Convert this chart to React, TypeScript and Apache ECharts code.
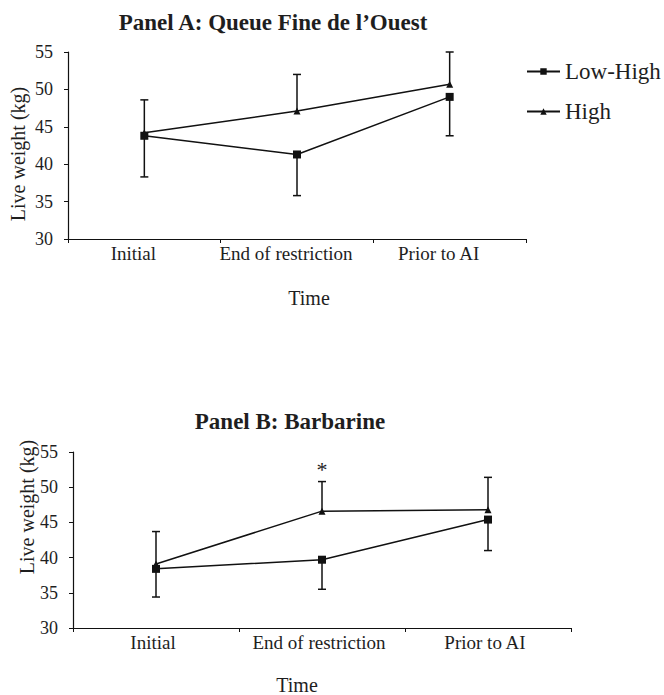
import React, { useEffect, useRef } from "react";
import * as echarts from "echarts";

const categories = ["Initial", "End of restriction", "Prior to AI"];
const seriesNames = ["Low-High", "High"];

const aLowHigh = [43.8, 41.3, 49.0];
const aHigh = [44.2, 47.1, 50.7];
const aLowHighErr = [5.5, 5.5, 5.2];
const aHighErr = [4.4, 4.9, 4.3];

const bLowHigh = [38.4, 39.7, 45.4];
const bHigh = [39.1, 46.6, 46.8];
const bLowHighErr = [4.0, 4.2, 4.4];
const bHighErr = [4.6, 4.2, 4.6];
const bSignificant = [false, true, false];

const yTicks = [30, 35, 40, 45, 50, 55];

const FONT = "'Liberation Serif', 'Times New Roman', serif";
const INK = "#111";
const TXT = "#1e1e1e";

function errData(vals: number[], errs: number[], dir: number) {
  return vals.map((v, i) => [i, v, v + dir * errs[i]]);
}

function errSeries(name: string, xi: number, vals: number[], errs: number[], dir: number) {
  return {
    type: "custom",
    name: name + " error",
    xAxisIndex: xi,
    yAxisIndex: xi,
    z: 1,
    silent: true,
    itemStyle: { color: INK },
    data: errData(vals, errs, dir),
    encode: { x: 0, y: [1, 2] },
    renderItem: (params: any, api: any) => {
      const p0 = api.coord([api.value(0), api.value(1)]);
      const p1 = api.coord([api.value(0), api.value(2)]);
      const hw = 4;
      const style = { stroke: INK, lineWidth: 1.5 };
      return {
        type: "group",
        children: [
          { type: "line", shape: { x1: p0[0], y1: p0[1], x2: p1[0], y2: p1[1] }, style },
          { type: "line", shape: { x1: p1[0] - hw, y1: p1[1], x2: p1[0] + hw, y2: p1[1] }, style },
        ],
      };
    },
  };
}

function lineSeries(name: string, xi: number, vals: number[], extra: any = {}) {
  const isSquare = name === "Low-High";
  return {
    type: "line",
    name,
    xAxisIndex: xi,
    yAxisIndex: xi,
    z: 3,
    data: vals,
    symbol: isSquare ? "rect" : "triangle",
    symbolSize: isSquare ? 8 : 7,
    itemStyle: { color: INK },
    lineStyle: { color: INK, width: 1.5 },
    ...extra,
  };
}

export default function App() {
  const ref = useRef<HTMLDivElement>(null);
  useEffect(() => {
    if (!ref.current) return;
    const chart = echarts.init(ref.current, null, { renderer: "svg" });

    const xAxisBase = (labelPad: number[]) => ({
      type: "category",
      data: categories,
      boundaryGap: true,
      axisLine: { lineStyle: { color: INK, width: 1.2 } },
      axisTick: { show: true, inside: false, length: 4, interval: 0, lineStyle: { color: INK } },
      axisLabel: {
        color: TXT,
        fontFamily: FONT,
        fontSize: 19,
        margin: 5,
        padding: labelPad,
        interval: 0,
        hideOverlap: false,
      },
      splitLine: { show: false },
    });
    const yAxisBase = {
      type: "value",
      min: yTicks[0],
      max: yTicks[yTicks.length - 1],
      interval: 5,
      axisLine: { show: true, lineStyle: { color: INK, width: 1.2 } },
      axisTick: { show: true, inside: false, length: 4, lineStyle: { color: INK } },
      axisLabel: { color: TXT, fontFamily: FONT, fontSize: 18, margin: 15 },
      splitLine: { show: false },
    };

    const sigMarks = bSignificant
      .map((s, i) => (s ? { coord: [i, bHigh[i] + bHighErr[i]], value: "*" } : null))
      .filter(Boolean);

    chart.setOption({
      animation: false,
      backgroundColor: "#fff",
      title: [
        {
          text: "Panel A: Queue Fine de l\u2019Ouest",
          left: 268,
          top: 6,
          textAlign: "center",
          textStyle: { fontFamily: FONT, fontSize: 23, fontWeight: "bold", color: TXT },
        },
        {
          text: "Panel B: Barbarine",
          left: 285,
          top: 405,
          textAlign: "center",
          textStyle: { fontFamily: FONT, fontSize: 23, fontWeight: "bold", color: TXT },
        },
      ],
      legend: {
        data: seriesNames,
        orient: "vertical",
        left: 526,
        top: 60,
        itemWidth: 33,
        itemHeight: 8,
        itemGap: 17,
        padding: 0,
        selectedMode: false,
        textStyle: { fontFamily: FONT, fontSize: 23, color: TXT },
      },
      grid: [
        { left: 68, top: 52, width: 458, height: 187 },
        { left: 73, top: 452, width: 498, height: 176 },
      ],
      xAxis: [
        { ...xAxisBase([0, 22, 0, 0]), gridIndex: 0 },
        { ...xAxisBase([0, 6, 0, 0]), gridIndex: 1 },
      ],
      yAxis: [
        { ...yAxisBase, gridIndex: 0 },
        { ...yAxisBase, gridIndex: 1 },
      ],
      graphic: [
        {
          type: "text",
          x: 18,
          y: 154,
          rotation: Math.PI / 2,
          style: { text: "Live weight (kg)", fill: TXT, font: `20px ${FONT}`, align: "center", verticalAlign: "middle" },
        },
        {
          type: "text",
          x: 27,
          y: 507,
          rotation: Math.PI / 2,
          style: { text: "Live weight (kg)", fill: TXT, font: `20px ${FONT}`, align: "center", verticalAlign: "middle" },
        },
        {
          type: "text",
          x: 309,
          y: 298,
          style: { text: "Time", fill: TXT, font: `20px ${FONT}`, align: "center", verticalAlign: "middle" },
        },
        {
          type: "text",
          x: 297,
          y: 685,
          style: { text: "Time", fill: TXT, font: `20px ${FONT}`, align: "center", verticalAlign: "middle" },
        },
      ],
      series: [
        errSeries("Low-High", 0, aLowHigh, aLowHighErr, -1),
        errSeries("High", 0, aHigh, aHighErr, 1),
        lineSeries("Low-High", 0, aLowHigh),
        lineSeries("High", 0, aHigh),
        errSeries("Low-High", 1, bLowHigh, bLowHighErr, -1),
        errSeries("High", 1, bHigh, bHighErr, 1),
        lineSeries("Low-High", 1, bLowHigh),
        lineSeries("High", 1, bHigh, {
          markPoint: {
            symbol: "circle",
            symbolSize: 0,
            silent: true,
            label: {
              show: true,
              position: "top",
              distance: 1,
              formatter: "*",
              fontFamily: FONT,
              fontSize: 22,
              color: TXT,
            },
            data: sigMarks,
          },
        }),
      ],
    });
    return () => chart.dispose();
  }, []);
  return (
    <div
      ref={ref}
      style={{ position: "absolute", left: 0, top: 0, width: 664, height: 695, background: "#fff" }}
    />
  );
}
